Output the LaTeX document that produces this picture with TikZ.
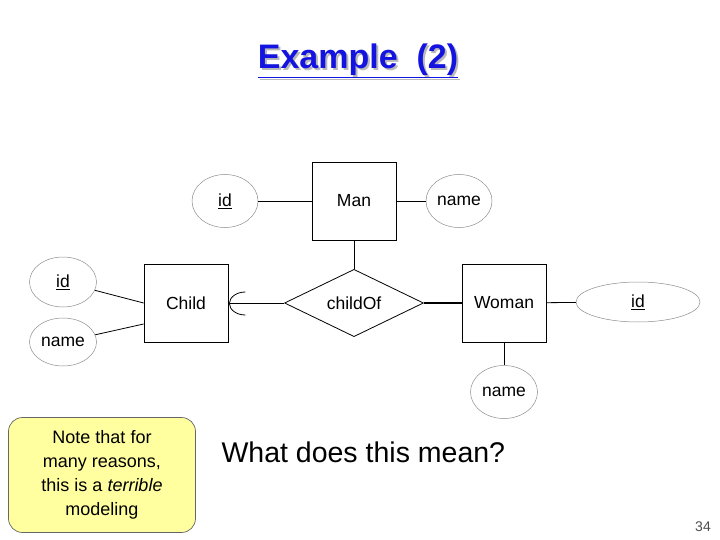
\documentclass[tikz,border=0pt]{standalone}
\usepackage{fontspec}
\setmainfont{Liberation Sans}
\usetikzlibrary{shapes.geometric}
\definecolor{titleblue}{RGB}{20,20,225}
\definecolor{notefill}{RGB}{255,255,160}
\newcommand\dgfont{\fontsize{17.5}{20}\selectfont}
\newcommand\titletext{\underline{Example\ \ (2)}}
\begin{document}
\begin{tikzpicture}[x=1pt,y=-1pt,
  entity/.style={draw, line width=0.8pt, minimum width=84pt, minimum height=78pt, inner sep=0pt, font=\dgfont},
  attr/.style={ellipse, draw=black!45, line width=0.5pt, inner sep=0pt, font=\dgfont},
  rel/.style={diamond, draw, line width=0.8pt, minimum width=139pt, minimum height=58pt, inner sep=0pt, font=\dgfont},
  link/.style={line width=0.8pt}]
\useasboundingbox (0,0) rectangle (720,540);
% title with shadow
\node[font=\fontsize{34}{36}\selectfont\bfseries] (title) at (358,62)
  {\makebox[0pt][l]{\hspace{2pt}\raisebox{-2pt}{\textcolor{gray!55}{\titletext}}}\textcolor{titleblue}{\titletext}};
% entities
\node[entity] (man) at (354,201) {Man};
\node[entity] (child) at (186,303) {Child};
\node[entity] (woman) at (504,303) {Woman};
\node[rel] (rel) at (354,303) {childOf};
% attributes
\node[attr, minimum width=66pt, minimum height=53pt] (manid) at (225,201) {\underline{id}};
\node[attr, minimum width=66pt, minimum height=53pt] (manname) at (459,201) {name};
\node[attr, minimum width=67pt, minimum height=50pt] (childid) at (63,282) {\underline{id}};
\node[attr, minimum width=67pt, minimum height=48pt] (childname) at (63,342) {name};
\node[attr, minimum width=124pt, minimum height=40pt] (womanid) at (638,302) {\underline{id}};
\node[attr, minimum width=67pt, minimum height=53pt] (womanname) at (504,392) {name};
% connectors
\draw[link] (manid) -- (man);
\draw[link] (man) -- (manname);
\draw[link] (man.south) -- (rel.north);
\draw[link] (rel.west) -- (child.east);
\draw[line width=2.4pt] (rel.east) -- (woman.west);
\draw[link] (woman) -- (womanid);
\draw[link] (woman.south) -- (womanname.north);
\draw[link] (childid) -- (child.west);
\coordinate (childlow) at ([yshift=-21pt]child.west);
\draw[link] (childname) -- (childlow);
% round arrow at Child
\draw[link] ([xshift=17pt,yshift=11pt]child.east) arc[start angle=90, end angle=270, x radius=16pt, y radius=11.5pt];
% note
\node[draw=black!60, line width=0.7pt, fill=notefill, rounded corners=14pt, minimum width=187pt, minimum height=115pt, align=center, font=\fontsize{18}{24}\selectfont] (note) at (102,475) {Note that for\\many reasons,\\this is a \textit{terrible}\\modeling};
\node[anchor=west, font=\fontsize{28.5}{32}\selectfont] (question) at (218,452) {What does this mean?};
\node[font=\fontsize{14}{16}\selectfont, text=black!70] (pagenum) at (703,527) {34};
\end{tikzpicture}
\end{document}
